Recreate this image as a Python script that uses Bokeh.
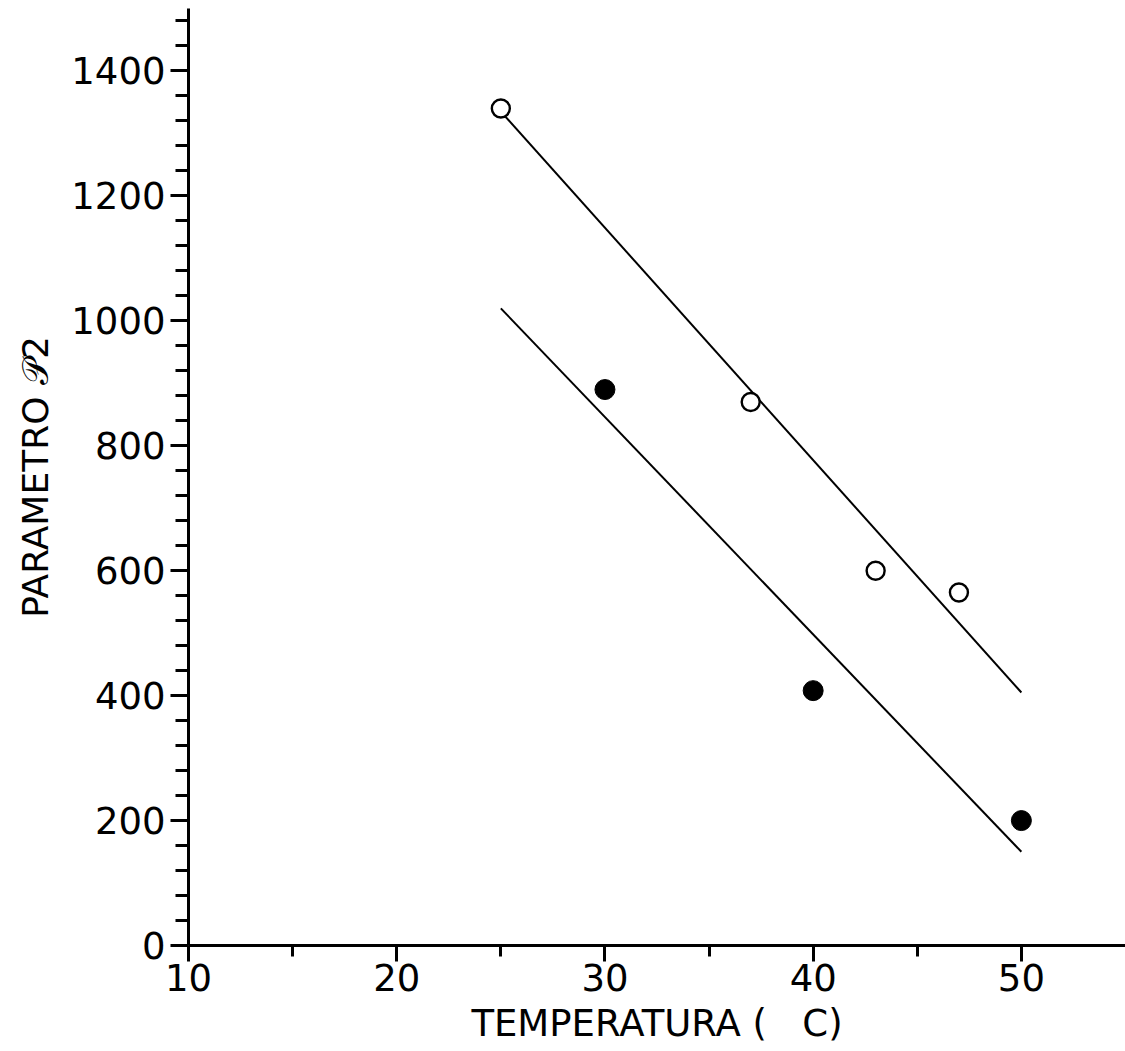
from bokeh.plotting import figure
from bokeh.models import FixedTicker, Range1d
from bokeh.embed import file_html
from bokeh.resources import INLINE

# data
open_x = [25, 37, 43, 47]
open_y = [1340, 870, 600, 565]
filled_x = [30, 40, 50]
filled_y = [890, 408, 200]
upper_line_x = [25, 50]
upper_line_y = [1335, 405]
lower_line_x = [25, 50]
lower_line_y = [1020, 150]
x_major = [10, 20, 30, 40, 50]
x_minor = [15, 25, 35, 45]
y_major = [0, 200, 400, 600, 800, 1000, 1200, 1400]
y_minor = [v for v in range(40, 1500, 40) if v % 200 != 0]

FONT = "DejaVu Sans"

p = figure(width=1125, height=1051, output_backend="svg", toolbar_location=None,
           x_range=Range1d(10, 55), y_range=Range1d(0, 1500),
           min_border_left=188, min_border_right=0, min_border_top=8, min_border_bottom=106)
p.outline_line_color = None
p.xgrid.visible = False
p.ygrid.visible = False
p.background_fill_color = "white"
p.border_fill_color = "white"

p.line(upper_line_x, upper_line_y, line_color="black", line_width=2)
p.line(lower_line_x, lower_line_y, line_color="black", line_width=2)
p.scatter(open_x, open_y, size=18, fill_color="white", line_color="black", line_width=2.4)
p.scatter(filled_x, filled_y, size=20, fill_color="black", line_color="black")

for ax in (p.xaxis[0], p.yaxis[0]):
    ax.axis_line_width = 3
    ax.axis_line_color = "black"
    ax.major_tick_line_width = 3
    ax.minor_tick_line_width = 3
    ax.major_tick_in = 0
    ax.minor_tick_in = 0
    ax.major_label_text_font = FONT
    ax.major_label_text_font_size = "37px"
    ax.major_label_text_color = "black"
    ax.axis_label_text_font = FONT
    ax.axis_label_text_font_style = "normal"
    ax.axis_label_text_color = "black"

p.xaxis[0].ticker = FixedTicker(ticks=x_major, minor_ticks=x_minor)
p.xaxis[0].major_tick_out = 16
p.xaxis[0].minor_tick_out = 11
p.xaxis[0].major_label_standoff = 2
p.xaxis[0].axis_label = "TEMPERATURA (\u00a0\u00a0\u00a0C)"
p.xaxis[0].axis_label_text_font_size = "37px"
p.xaxis[0].axis_label_standoff = 8

p.yaxis[0].ticker = FixedTicker(ticks=y_major, minor_ticks=y_minor)
p.yaxis[0].major_tick_out = 18
p.yaxis[0].minor_tick_out = 13
p.yaxis[0].major_label_standoff = 5
p.yaxis[0].axis_label = "PARAMETRO 𝒫2"
p.yaxis[0].axis_label_text_font_size = "36px"
p.yaxis[0].axis_label_standoff = 12

open("out.html", "w").write(file_html(p, INLINE))
